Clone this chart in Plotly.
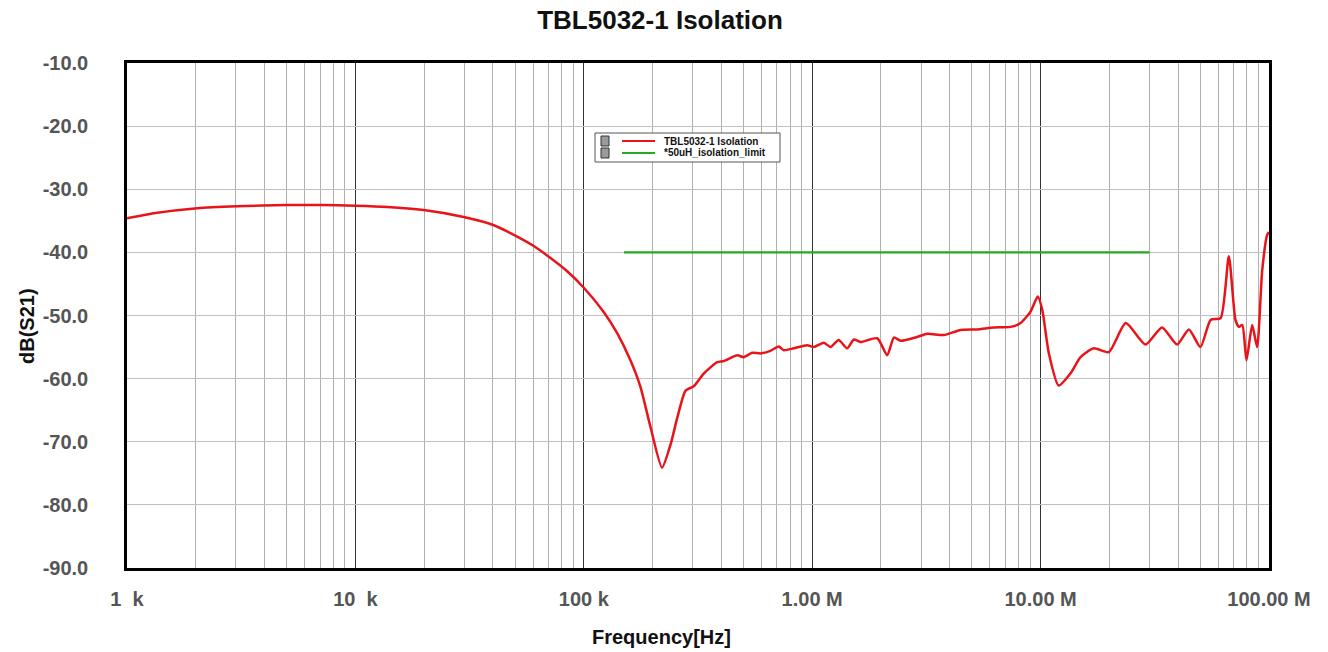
import plotly.graph_objects as go

# Measured isolation curve (frequency in Hz, dB(S21))
freq_hz = [
    1.0e3, 1.31e3, 2.03e3, 3.04e3, 5.03e3, 7.03e3, 1.0e4, 1.38e4, 1.99e4, 2.98e4,
    4.04e4, 5.11e4, 6.04e4, 7.15e4, 8.46e4, 1.0e5, 1.22e5, 1.40e5, 1.60e5, 1.77e5,
    1.96e5, 2.20e5, 2.40e5, 2.57e5, 2.79e5, 3.03e5, 3.35e5, 3.84e5, 4.10e5, 4.70e5,
    5.01e5, 5.46e5, 5.94e5, 6.56e5, 7.14e5, 7.51e5, 8.30e5, 9.50e5, 1.016e6, 1.125e6,
    1.203e6, 1.306e6, 1.422e6, 1.521e6, 1.626e6, 1.927e6, 2.13e6, 2.28e6, 2.44e6, 2.88e6,
    3.19e6, 3.77e6, 4.46e6, 5.27e6, 6.24e6, 7.38e6, 8.17e6, 9.03e6, 9.72e6, 1.017e7,
    1.087e7, 1.20e7, 1.35e7, 1.496e7, 1.71e7, 1.99e7, 2.36e7, 2.88e7, 3.40e7, 3.96e7,
    4.46e7, 5.01e7, 5.55e7, 6.14e7, 6.67e7, 7.13e7, 7.38e7, 7.64e7, 7.97e7, 8.44e7,
    8.87e7, 9.34e7, 9.82e7, 1.0e8,
]
isolation_db = [
    -34.6, -33.8, -33.0, -32.7, -32.5, -32.5, -32.6, -32.8, -33.3, -34.4,
    -35.7, -37.5, -39.0, -40.9, -43.0, -45.6, -49.4, -52.8, -57.1, -61.3,
    -67.7, -74.1, -70.4, -66.1, -61.9, -61.2, -59.2, -57.4, -57.2, -56.3,
    -56.6, -55.9, -56.0, -55.6, -54.9, -55.5, -55.2, -54.7, -55.0, -54.3,
    -55.0, -53.9, -55.2, -53.8, -54.2, -53.6, -56.3, -53.5, -54.0, -53.4,
    -52.9, -53.1, -52.3, -52.2, -51.9, -51.8, -51.2, -49.4, -47.0, -49.1,
    -56.0, -61.1, -59.2, -56.6, -55.2, -55.8, -51.2, -54.6, -51.9, -54.6,
    -52.2, -55.0, -50.7, -50.4, -40.6, -50.7, -51.8, -51.5, -57.1, -51.5,
    -55.0, -42.8, -37.2, -36.8,
]

# Limit line
limit_freq_hz = [1.5e5, 3.0e7]
limit_db = [-40.0, -40.0]

series_names = ["TBL5032-1 Isolation", "*50uH_isolation_limit"]
series_colors = ["#e8141a", "#22aa22"]

# Axis ticks
x_tickvals = [1e3, 1e4, 1e5, 1e6, 1e7, 1e8]
x_ticktext = ["1  k", "10  k", "100 k", "1.00 M", "10.00 M", "100.00 M"]
y_tickvals = [-10, -20, -30, -40, -50, -60, -70, -80, -90]
y_ticktext = ["-10.0", "-20.0", "-30.0", "-40.0", "-50.0", "-60.0", "-70.0", "-80.0", "-90.0"]

FONT = "Arial, Liberation Sans, sans-serif"

W, H = 1328, 652
PL, PR, PT, PB = 127, 1269, 63, 568   # plot area in pixels


def px(xp):
    return (xp - PL) / (PR - PL)


def py(yp):
    return 1 - (yp - PT) / (PB - PT)


fig = go.Figure()
fig.add_trace(go.Scatter(
    x=freq_hz, y=isolation_db, mode="lines", name=series_names[0],
    line=dict(color=series_colors[0], width=2.5, shape="spline", smoothing=0.6),
))
fig.add_trace(go.Scatter(
    x=limit_freq_hz, y=limit_db, mode="lines", name=series_names[1],
    line=dict(color=series_colors[1], width=2.2),
))

fig.update_layout(
    width=W, height=H,
    margin=dict(l=PL, r=W - PR, t=PT, b=H - PB),
    paper_bgcolor="white", plot_bgcolor="white",
    title=dict(text="<b>TBL5032-1 Isolation</b>", x=660 / W, xref="container",
               xanchor="center", y=1 - 20 / H, yanchor="middle", yref="container",
               font=dict(family=FONT, size=26, color="#111")),
    showlegend=False,
    font=dict(family=FONT),
)

fig.update_xaxes(
    type="log", range=[3, 8],
    tickvals=x_tickvals, ticktext=x_ticktext,
    tickfont=dict(family=FONT, size=20, color="#555", weight="bold"),
    ticks="", ticklabelstandoff=11,
    showgrid=True, gridcolor="#333", gridwidth=1.3,
    minor=dict(dtick="D1", showgrid=True, gridcolor="#b0b0b0", gridwidth=1),
    showline=True, linecolor="black", linewidth=2.5, mirror=True,
    zeroline=False,
)
fig.update_yaxes(
    range=[-90, -10],
    tickvals=y_tickvals, ticktext=y_ticktext,
    tickfont=dict(family=FONT, size=20, color="#555", weight="bold"),
    ticks="", ticklabelstandoff=32,
    showgrid=True, gridcolor="#c0c0c0", gridwidth=1,
    showline=True, linecolor="black", linewidth=2.5, mirror=True,
    zeroline=False,
)

# axis titles
fig.add_annotation(text="<b>Frequency[Hz]</b>", xref="paper", yref="paper",
                   x=px(661), y=py(637), xanchor="center", yanchor="middle", showarrow=False,
                   font=dict(family=FONT, size=20, color="#111"))
fig.add_annotation(text="<b>dB(S21)</b>", xref="paper", yref="paper",
                   x=px(27), y=py(326), xanchor="center", yanchor="middle", showarrow=False,
                   textangle=-90, font=dict(family=FONT, size=20, color="#111"))

# legend box drawn inside the plot (compact, like the reference)
fig.add_shape(type="rect", xref="paper", yref="paper",
              x0=px(595), x1=px(780), y0=py(133), y1=py(162),
              line=dict(color="#555", width=1), fillcolor="white", layer="above")
row_y = [141, 153]
for i, (name, col) in enumerate(zip(series_names, series_colors)):
    yy = row_y[i]
    fig.add_shape(type="rect", xref="paper", yref="paper",
                  x0=px(601), x1=px(609), y0=py(yy - 5), y1=py(yy + 5),
                  line=dict(color="#333", width=1), fillcolor="#9a9a9a", layer="above")
    fig.add_shape(type="line", xref="paper", yref="paper",
                  x0=px(622), x1=px(655), y0=py(yy), y1=py(yy),
                  line=dict(color=col, width=2), layer="above")
    fig.add_annotation(text="<b>" + name + "</b>", xref="paper", yref="paper",
                       x=px(662), y=py(yy), xanchor="left", yanchor="middle",
                       showarrow=False, font=dict(family=FONT, size=10, color="#111"))

# remove the default 8px page margin so the figure fills the window exactly
fig.write_html("out.html", config={"displayModeBar": False},
               post_script="document.body.style.margin='0px';")
